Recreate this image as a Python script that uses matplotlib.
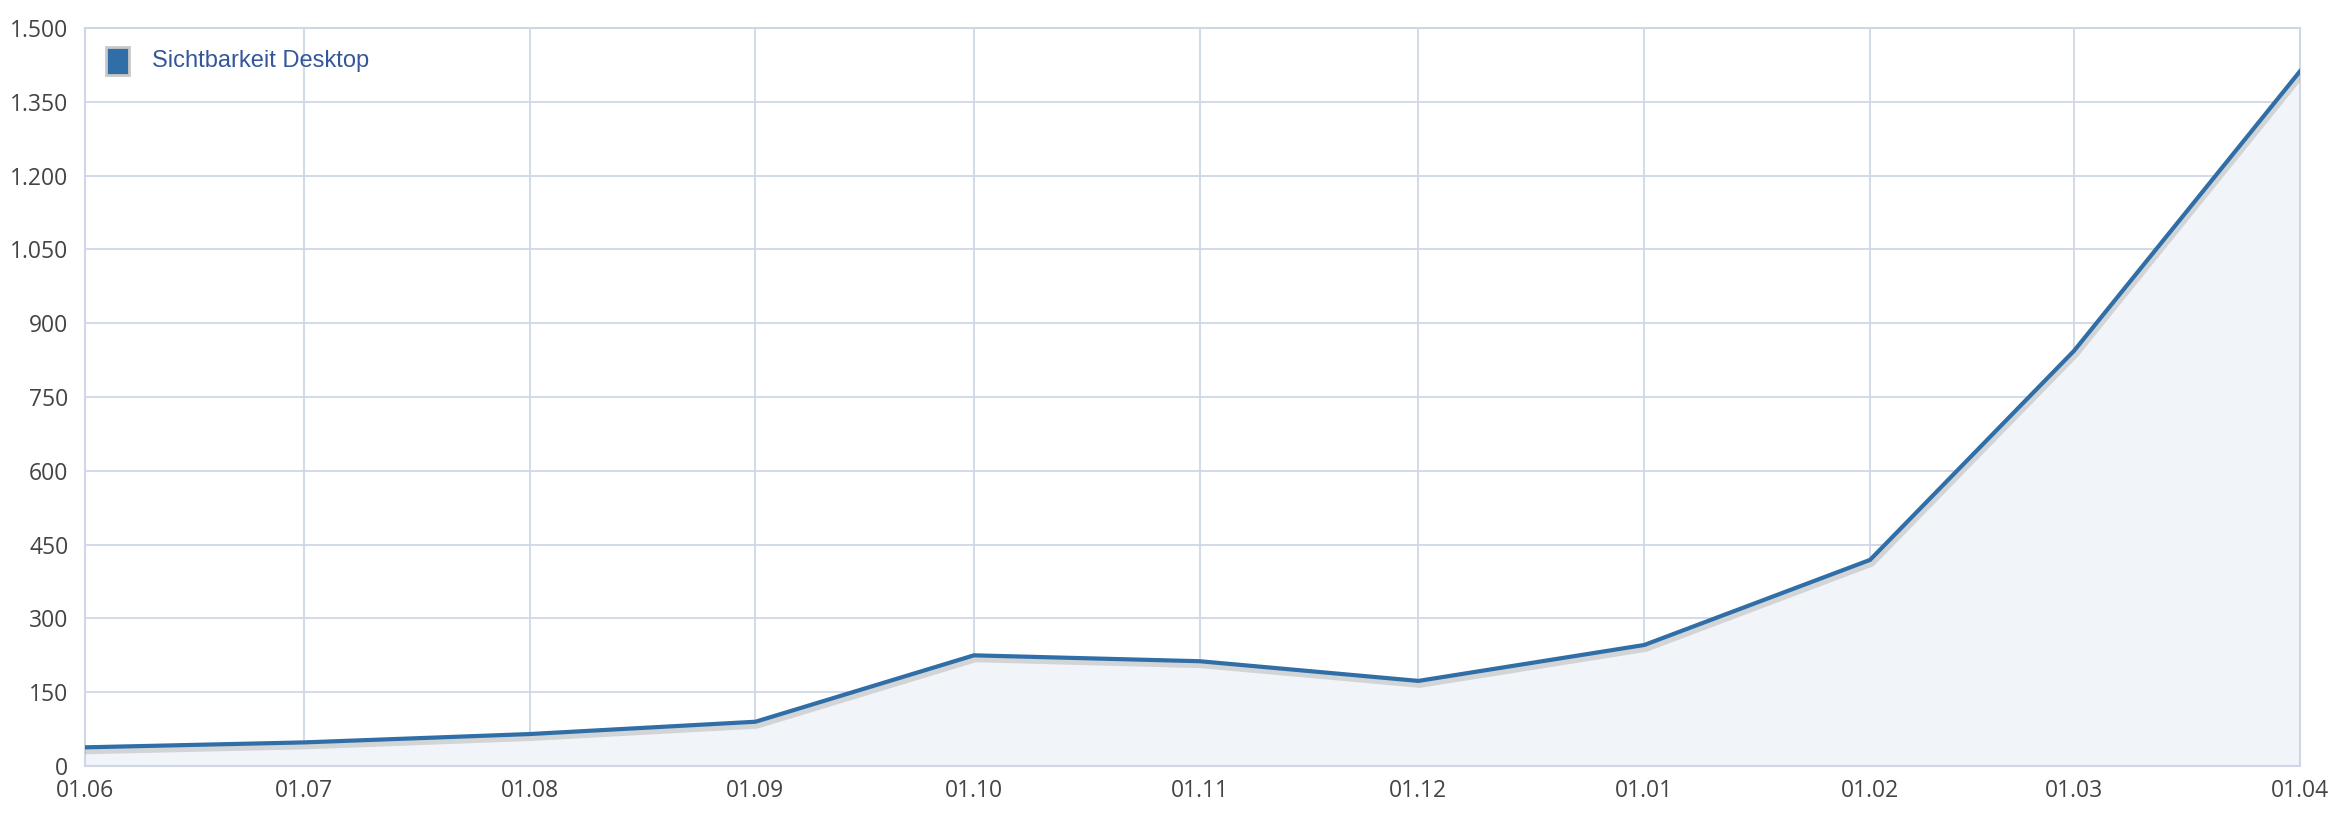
import datetime as dt
import matplotlib
matplotlib.use("Agg")
import matplotlib.pyplot as plt
import matplotlib.dates as mdates
import matplotlib.patheffects as pe
from matplotlib.ticker import FuncFormatter, MultipleLocator
from matplotlib.patches import Rectangle

# data
dates = ["2022-06-01", "2022-07-01", "2022-08-01", "2022-09-01", "2022-10-01", "2022-11-01",
         "2022-12-01", "2023-01-01", "2023-02-01", "2023-03-01", "2023-04-01"]
visibility = [38, 48, 65, 90, 225, 213, 173, 246, 419, 844, 1412]
series_name = "Sichtbarkeit Desktop"

x = [dt.datetime.strptime(d, "%Y-%m-%d") for d in dates]

line_color = "#2f6ea7"
grid_color = "#cfd7e6"
text_color = "#444444"

plt.rcParams['font.family'] = ['Open Sans', 'DejaVu Sans']

fig = plt.figure(figsize=(23.44, 8.36), dpi=100)
ax = fig.add_axes([0.0363, 0.0837, 0.9449, 0.8828])

# area + line with a soft shadow
ax.fill_between(x, visibility, 0, color="#f1f4f8", zorder=1)
ax.plot(x, visibility, color=line_color, lw=3, solid_joinstyle="miter", zorder=3,
        path_effects=[pe.SimpleLineShadow(offset=(1, -2.5), shadow_color="#999999", alpha=0.35, linewidth=5),
                      pe.Normal()])

ax.set_xlim(x[0], x[-1])
ax.set_ylim(0, 1500)
ax.yaxis.set_major_locator(MultipleLocator(150))
ax.yaxis.set_major_formatter(FuncFormatter(lambda v, p: f"{int(v):,}".replace(",", ".")))
ax.set_xticks(x)
ax.xaxis.set_major_formatter(mdates.DateFormatter("%d.%m"))

ax.grid(True, color=grid_color, lw=1.3, zorder=0)
ax.set_axisbelow(True)
for s in ax.spines.values():
    s.set_color(grid_color)
    s.set_linewidth(1.5)
ax.tick_params(length=0, labelsize=16.5, colors=text_color)
ax.tick_params(axis="y", pad=12)
ax.tick_params(axis="x", pad=9)

# legend, drawn like the original
ax.add_patch(Rectangle((0.0095, 0.937), 0.0105, 0.037, transform=ax.transAxes,
                       facecolor=line_color, edgecolor="#c8c8c8", lw=2, zorder=5))
ax.text(0.030, 0.955, series_name, transform=ax.transAxes, va="center", ha="left",
        fontsize=17, color="#34579a", family=['Liberation Sans', 'DejaVu Sans'], zorder=5)

fig.savefig("out.png", dpi=100)
